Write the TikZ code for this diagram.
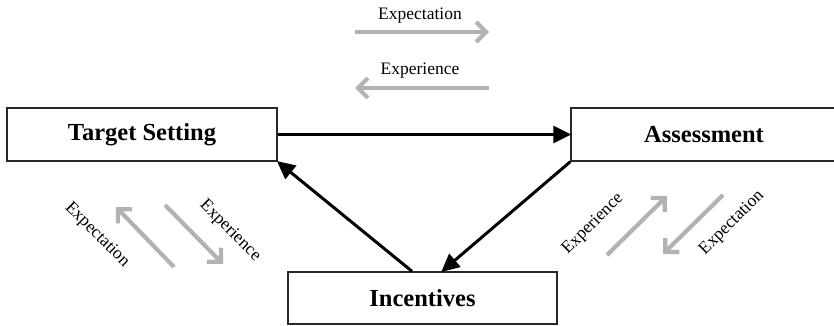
\documentclass[tikz,border=0pt]{standalone}
\usepackage{fontspec}
\setmainfont{Liberation Serif}
\usetikzlibrary{arrows.meta}
\definecolor{flowgray}{RGB}{178,178,178}
\definecolor{boxline}{RGB}{40,40,40}
\tikzset{
  x=1pt, y=1pt,
  stage/.style={draw=boxline, line width=1.4pt, minimum height=53pt,
    inner sep=0pt, font=\fontsize{24.5}{28}\selectfont\bfseries},
  mainflow/.style={line width=3pt, black,
    -{Triangle[length=18pt,width=17pt]}, shorten >=-1pt},
  softflow/.style={line width=4.2pt, draw=flowgray,
    -{Straight Barb[length=10pt,width=20pt,line width=4.2pt]}},
  flowlabel/.style={font=\fontsize{17.5}{20}\selectfont, inner sep=0pt}
}
\begin{document}
\begin{tikzpicture}
\useasboundingbox (0,0) rectangle (834,325);
\clip (0,0) rectangle (834,325);

% the three stages
\node[stage, minimum width=270pt] (ts) at (142,190.5) {Target Setting};
\node[stage, minimum width=266pt] (as) at (704,190.5) {Assessment};
\node[stage, minimum width=269pt, minimum height=52pt] (inc) at (422.5,27) {Incentives};

% main cycle
\draw[mainflow] (ts.east) -- (as.west);
\draw[mainflow] (as.south west) -- ([xshift=19.5pt]inc.north);
\draw[mainflow] ([xshift=-10.5pt]inc.north) -- (ts.south east);

% feedback between target setting and assessment
\coordinate (t1) at (355,293);
\coordinate (t2) at (489,293);
\coordinate (t3) at (489,237);
\coordinate (t4) at (355,237);
\draw[softflow] (t1) -- (t2);
\draw[softflow] (t3) -- (t4);
\node[flowlabel] (tl1) at (420,309) {Expectation};
\node[flowlabel] (tl2) at (420,254) {Experience};

% feedback between incentives and target setting
\coordinate (l1) at (174,58);
\coordinate (l2) at (116,118);
\coordinate (l3) at (165,120);
\coordinate (l4) at (223,61);
\draw[softflow] (l1) -- (l2);
\draw[softflow] (l3) -- (l4);
\node[flowlabel, rotate=-45] (ll1) at (97,90) {Expectation};
\node[flowlabel, rotate=-45] (ll2) at (230,94) {Experience};

% feedback between assessment and incentives
\coordinate (r1) at (607,70);
\coordinate (r2) at (667,129);
\coordinate (r3) at (723,130);
\coordinate (r4) at (663,71);
\draw[softflow] (r1) -- (r2);
\draw[softflow] (r3) -- (r4);
\node[flowlabel, rotate=45] (rl1) at (593,101) {Experience};
\node[flowlabel, rotate=45] (rl2) at (732,102) {Expectation};
\end{tikzpicture}
\end{document}
